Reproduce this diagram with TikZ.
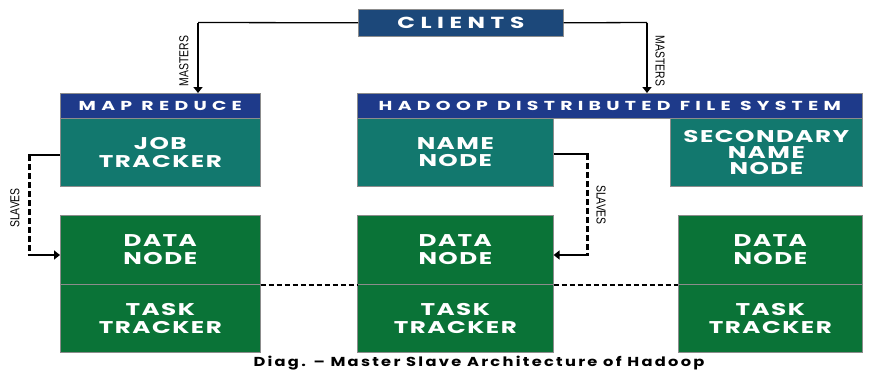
\documentclass[tikz,border=0pt]{standalone}
\usepackage{fontspec}
\setmainfont{Poppins}
\newfontfamily\narrowfont{Liberation Sans}
\usetikzlibrary{arrows.meta}
\definecolor{clientblue}{RGB}{28,72,122}
\definecolor{headblue}{RGB}{30,58,138}
\definecolor{tealbox}{RGB}{18,120,110}
\definecolor{greenbox}{RGB}{10,115,55}
\newcommand\widetext[1]{\scalebox{1.45}[1]{#1}}
\begin{document}
\begin{tikzpicture}[x=1pt,y=-1pt,
  box/.style={draw=black!45, line width=0.6pt, inner sep=0pt, anchor=north west,
    text=white, align=center, font=\bfseries\fontsize{17}{17.5}\selectfont\addfontfeature{LetterSpace=6}},
  headbox/.style={box, fill=headblue, minimum height=25pt, font=\bfseries\fontsize{13}{14}\selectfont\addfontfeature{LetterSpace=28}},
  tealnode/.style={box, fill=tealbox, minimum height=68pt},
  greennode/.style={box, fill=greenbox},
  vlabel/.style={font=\narrowfont\fontsize{13}{13}\selectfont, inner sep=0pt},
  masterline/.style={line width=2.2pt, -{Triangle[length=6pt,width=9pt]}},
  thinline/.style={line width=1.3pt},
  slavedash/.style={line width=3pt, dash pattern=on 6pt off 3pt},
  slavearrow/.style={line width=2.2pt, -{Triangle[length=6pt,width=9pt]}},
  peerdash/.style={line width=2pt, dash pattern=on 5pt off 3pt}]
\useasboundingbox (0,0) rectangle (873,373);

% top
\node[box, fill=clientblue, minimum width=205pt, minimum height=27pt, font=\bfseries\fontsize{16}{17}\selectfont\addfontfeature{LetterSpace=24}] (clients) at (358,9) {\widetext{CLIENTS}};

\node[headbox, minimum width=200pt] (mr) at (60,93) {\widetext{MAP REDUCE}};
\node[tealnode, minimum width=200pt] (jt) at (60,118) {\widetext{JOB}\\\widetext{TRACKER}};

\node[headbox, minimum width=505pt] (hdfs) at (357,93) {\widetext{HADOOP DISTRIBUTED FILE SYSTEM}};
\node[tealnode, minimum width=196pt] (nn) at (357,118) {\widetext{NAME}\\\widetext{NODE}};
\node[tealnode, minimum width=192pt, font=\bfseries\fontsize{17}{16}\selectfont\addfontfeature{LetterSpace=6}] (snn) at (670,118) {\widetext{SECONDARY}\\\widetext{NAME}\\\widetext{NODE}};

% bottom
\node[greennode, minimum width=200pt, minimum height=69pt] (dn1) at (60,215) {\widetext{DATA}\\\widetext{NODE}};
\node[greennode, minimum width=200pt, minimum height=68pt] (tt1) at (60,284) {\widetext{TASK}\\\widetext{TRACKER}};
\node[greennode, minimum width=196pt, minimum height=69pt] (dn2) at (357,215) {\widetext{DATA}\\\widetext{NODE}};
\node[greennode, minimum width=196pt, minimum height=68pt] (tt2) at (357,284) {\widetext{TASK}\\\widetext{TRACKER}};
\node[greennode, minimum width=184pt, minimum height=69pt] (dn3) at (678,215) {\widetext{DATA}\\\widetext{NODE}};
\node[greennode, minimum width=184pt, minimum height=68pt] (tt3) at (678,284) {\widetext{TASK}\\\widetext{TRACKER}};

% masters connectors
\coordinate (mL) at (198,22.5);
\coordinate (mR) at (647,22.5);
\draw[thinline] (clients.west) -- (mL);
\draw[masterline] (mL) -- (mL |- mr.north);
\draw[thinline] (clients.east) -- (mR);
\draw[masterline] (mR) -- (mR |- hdfs.north);
\node[vlabel, rotate=90] (lmL) at (184,61) {\scalebox{0.8}[1]{MASTERS}};
\node[vlabel, rotate=-90] (lmR) at (660,61) {\scalebox{0.8}[1]{MASTERS}};

% slaves connectors
\coordinate (sL1) at (29,155);
\coordinate (sL2) at (29,255);
\draw[thinline] (jt.west |- sL1) -- ([xshift=-1.5pt]sL1);
\draw[slavedash] (sL1) -- (sL2);
\draw[slavearrow] ([xshift=-1.5pt]sL2) -- (sL2 -| dn1.west);
\node[vlabel, rotate=90] (lsL) at (15,208) {\scalebox{0.8}[1]{SLAVES}};

\coordinate (sR1) at (587,154);
\coordinate (sR2) at (587,255);
\draw[thinline] (nn.east |- sR1) -- ([xshift=1.5pt]sR1);
\draw[slavedash] (sR1) -- (sR2);
\draw[slavearrow] ([xshift=1.5pt]sR2) -- (sR2 -| dn2.east);
\node[vlabel, rotate=-90] (lsR) at (601,205) {\scalebox{0.8}[1]{SLAVES}};

% peer dashed links
\draw[peerdash] (dn1.south east) -- (dn2.south west);
\draw[peerdash] (dn2.south east) -- (dn3.south west);

% caption
\node[font=\fontsize{13}{15}\selectfont\bfseries\addfontfeature{LetterSpace=14}, inner sep=0pt] (cap) at (479,363) {\scalebox{1.25}[1]{Diag. -- Master Slave Architecture of Hadoop}};
\end{tikzpicture}
\end{document}
